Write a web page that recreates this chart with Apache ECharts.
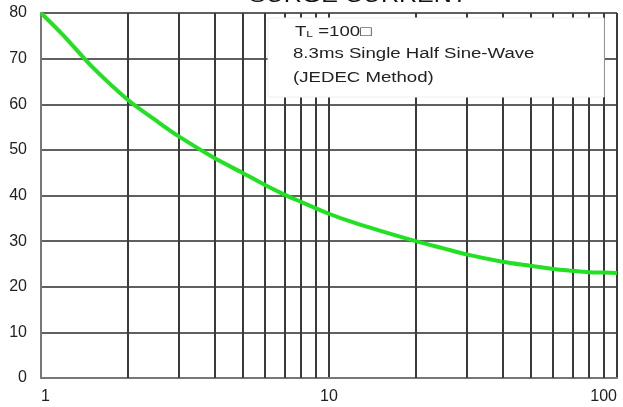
<!DOCTYPE html>
<html>
<head>
<meta charset="utf-8">
<script src="https://cdn.jsdelivr.net/npm/echarts@6/dist/echarts.min.js"></script>
<style>html,body{margin:0;padding:0;background:#fff}#c{width:623px;height:407px}</style>
</head>
<body>
<div id="c"></div>
<script>
// Data
const cycles = [1, 1.2, 1.5, 2, 2.5, 3, 4, 5, 6, 7, 8, 10, 12, 15, 20, 25, 30, 40, 50, 60, 70, 80, 90, 100];
const current = [80, 75, 68.3, 61, 56.5, 53, 48.2, 45, 42.3, 40.2, 38.6, 36, 34.2, 32.3, 30, 28.4, 27.1, 25.5, 24.6, 23.9, 23.5, 23.2, 23.1, 23];
const minorGridX = [2, 3, 4, 5, 6, 7, 8, 9, 20, 30, 40, 50, 60, 70, 80, 90];
const titleText = 'SURGE CURRENT';
const noteLines = ['8.3ms Single Half Sine-Wave', '(JEDEC Method)'];

const chart = echarts.init(document.getElementById('c'), null, {renderer: 'canvas'});
const FONT = 'Liberation Sans, Arial, sans-serif';
chart.setOption({
  animation: false,
  grid: {left: 41, right: 6, top: 13, bottom: 29},
  xAxis: {
    type: 'log', logBase: 10, min: 1, max: 100,
    axisLine: {show: true, lineStyle: {color: '#777', width: 2}},
    axisTick: {show: false},
    axisLabel: {color: '#222', fontSize: 16, fontFamily: FONT, margin: 11,
      alignMinLabel: 'left', alignMaxLabel: 'right'},
    splitLine: {show: true, lineStyle: {color: '#3a3a3a', width: 2}},
    minorTick: {show: false}, minorSplitLine: {show: false}
  },
  yAxis: {
    type: 'value', min: 0, max: 80, interval: 10,
    axisLine: {show: true, lineStyle: {color: '#777', width: 2}},
    axisTick: {show: false},
    axisLabel: {color: '#222', fontSize: 16, fontFamily: FONT, margin: 14},
    splitLine: {show: true, lineStyle: {color: '#606060', width: 2}}
  },
  series: [{
    type: 'line',
    data: cycles.map((x, i) => [x, current[i]]),
    smooth: 0.3,
    symbol: 'none',
    lineStyle: {color: '#22e022', width: 4},
    z: 5,
    markLine: {
      silent: true, symbol: 'none', animation: false,
      label: {show: false},
      lineStyle: {color: '#3a3a3a', width: 2, type: 'solid'},
      data: minorGridX.map(v => ({xAxis: v}))
    }
  }],
  graphic: [
    {type: 'rect', z: 50, shape: {x: 268, y: 18, width: 336, height: 79},
      style: {fill: '#fff', stroke: '#eee', lineWidth: 1}},
    {type: 'text', z: 51, x: 295, y: 32, scaleX: 1.33,
      style: {text: '{t|T}{s|L}{t| =100□}', fill: '#222', verticalAlign: 'middle',
        rich: {t: {fontSize: 14, fontFamily: FONT, fill: '#222'},
               s: {fontSize: 9, fontFamily: FONT, fill: '#222', padding: [5, 0, 0, 0]}}}},
    {type: 'text', z: 51, x: 293, y: 54, scaleX: 1.33,
      style: {text: noteLines[0], fill: '#222', font: '14px ' + FONT, verticalAlign: 'middle'}},
    {type: 'text', z: 51, x: 293, y: 78, scaleX: 1.33,
      style: {text: noteLines[1], fill: '#222', font: '14px ' + FONT, verticalAlign: 'middle'}},
    {type: 'text', z: 51, x: 358, y: 6, scaleX: 1.25,
      style: {text: titleText, fill: '#111', font: '20px ' + FONT, align: 'center', verticalAlign: 'bottom'}}
  ]
});
</script>
</body>
</html>
